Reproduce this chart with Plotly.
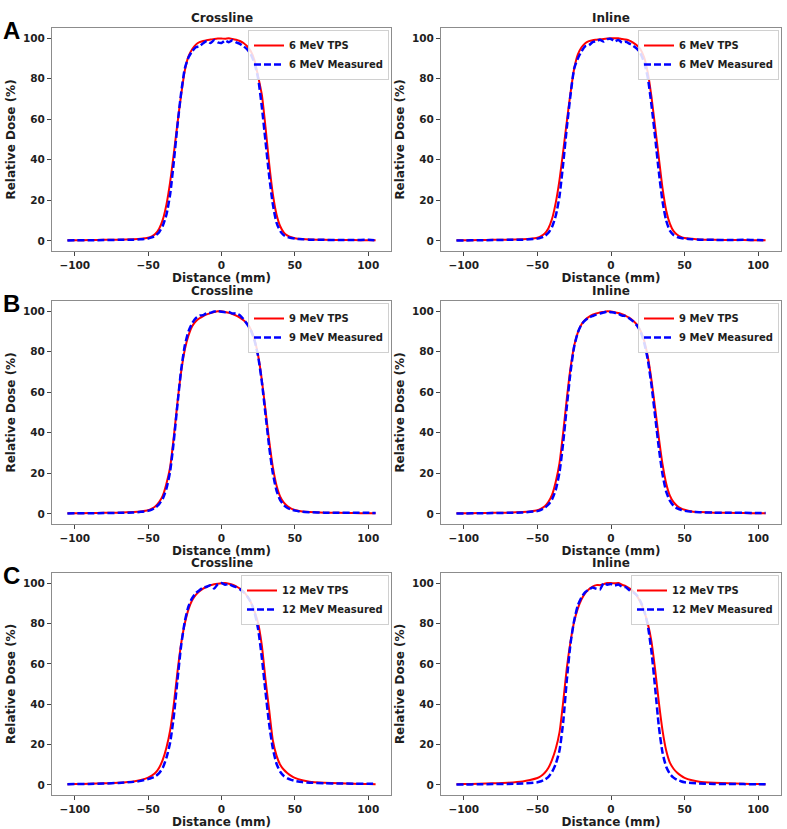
import plotly.graph_objects as go

# ---------------- data ----------------
distance_mm = [-105, -100, -90, -80, -70, -60, -55, -50,
               -47.5, -45, -42.5, -40, -37.5, -35, -32.5, -30, -27.5, -25, -22.5, -20,
               -17.5, -15, -12.5, -10, -7.5, -5, -2.5,
               0,
               2.5, 5, 7.5, 10, 12.5, 15, 17.5, 20, 22.5, 25, 27.5, 30, 32.5, 35,
               37.5, 40, 42.5, 45, 47.5,
               50, 55, 60, 70, 80, 90, 100, 105]

cross6_tps = [0.3, 0.3, 0.4, 0.5, 0.6, 0.8, 1.0, 1.5,
              2.2, 3.5, 6, 10.5, 18, 29, 43, 58, 72, 84, 91, 94.5,
              96.8, 98, 98.6, 99, 99.3, 99.6, 99.8,
              99.8,
              99.7, 99.9, 99.6, 99.2, 98.6, 97.6, 96, 93.5, 89, 81, 72, 56, 38, 23,
              13, 7.2, 4.1, 2.6, 1.8,
              1.3, 0.9, 0.7, 0.5, 0.4, 0.4, 0.3, 0.3]
cross6_meas = [0.2, 0.3, 0.3, 0.4, 0.5, 0.6, 0.8, 1.2,
               1.7, 2.6, 4.3, 7.5, 13, 23, 39, 57, 73, 85, 90.5, 93.5,
               95.5, 96, 97.5, 98.6, 97.6, 99, 97.9,
               97.6,
               98.8, 98, 98.9, 97.9, 97.2, 96, 94.5, 92, 87.5, 80, 66, 49, 32, 18,
               9, 4.8, 2.8, 1.9, 1.4,
               1.1, 0.8, 0.6, 0.5, 0.4, 0.4, 0.5, 0.3]

inline6_tps = [0.3, 0.3, 0.4, 0.5, 0.6, 0.8, 1.0, 1.5,
               2.3, 3.6, 6.2, 11, 19, 30, 44, 59, 73, 85, 92, 95.5,
               97.5, 98.5, 99, 99.2, 99.4, 99.6, 99.8,
               100,
               99.9, 100, 99.6, 99.3, 98.8, 97.8, 96.5, 94.5, 90.5, 83, 71, 56, 41, 26,
               15, 8.5, 4.8, 3, 2.0,
               1.4, 1.0, 0.7, 0.5, 0.4, 0.4, 0.3, 0.3]
inline6_meas = [0.2, 0.2, 0.3, 0.4, 0.5, 0.6, 0.8, 1.1,
                1.6, 2.4, 4, 7, 12.5, 22, 38, 56, 72, 85, 90, 93.5,
                96, 96.5, 98, 98.5, 99.2, 98.3, 99.5,
                99.6,
                98.4, 99.1, 97.8, 98.2, 97.3, 96.2, 94.8, 92.5, 88, 80.5, 67, 51, 34, 19.5,
                10, 5, 2.9, 1.9, 1.4,
                1.1, 0.8, 0.6, 0.5, 0.4, 0.5, 0.4, 0.3]

cross9_tps = [0.3, 0.3, 0.4, 0.5, 0.6, 0.9, 1.2, 1.8,
              2.6, 3.8, 5.8, 9, 15, 23, 38, 55, 70, 81, 88, 92.5,
              95, 96.5, 97.5, 98.4, 99, 99.5, 99.9,
              99.9,
              99.6, 99.2, 98.6, 97.8, 96.8, 95.5, 93.8, 91, 86, 78, 66, 51, 36, 23,
              14, 8.5, 5.5, 3.7, 2.6,
              1.9, 1.2, 0.9, 0.6, 0.5, 0.4, 0.3, 0.3]
cross9_meas = [0.2, 0.3, 0.3, 0.4, 0.5, 0.7, 1.0, 1.5,
               2.1, 3.1, 4.8, 7.5, 12.5, 21, 36, 54, 71, 83, 90, 94,
               96.5, 97.8, 98, 99, 99.2, 99.8, 100,
               99.7,
               99.5, 99.6, 98.8, 98.9, 98, 96, 93.5, 90.5, 85.5, 77.5, 65, 49, 33, 20,
               11.5, 6.8, 4.3, 2.9, 2.1,
               1.6, 1.0, 0.8, 0.6, 0.5, 0.5, 0.5, 0.4]

inline9_tps = [0.3, 0.3, 0.4, 0.5, 0.6, 0.9, 1.2, 1.8,
               2.6, 3.8, 6, 9.5, 16, 25, 40, 57, 72, 83, 89.5, 93.5,
               95.8, 97.2, 98.2, 98.8, 99.3, 99.6, 99.9,
               99.8,
               99.5, 99.1, 98.5, 97.7, 96.7, 95.3, 93.5, 90.5, 85.5, 77.5, 66, 52, 37.5, 24.5,
               15, 9, 5.8, 3.9, 2.7,
               2.0, 1.2, 0.9, 0.6, 0.5, 0.4, 0.3, 0.3]
inline9_meas = [0.2, 0.2, 0.3, 0.4, 0.5, 0.7, 1.0, 1.4,
                2.0, 3, 4.6, 7.2, 12, 20.5, 35, 53, 70, 82.5, 89.5, 93.5,
                95.5, 96.8, 97.6, 98.3, 98.8, 99.3, 99.8,
                99.5,
                99.2, 98.7, 97.8, 97.6, 96.4, 95, 93, 90, 84.5, 76, 63.5, 48, 32.5, 19.5,
                11, 6.5, 4, 2.7, 2.0,
                1.5, 1.0, 0.8, 0.6, 0.5, 0.5, 0.4, 0.4]

cross12_tps = [0.3, 0.4, 0.6, 0.8, 1.1, 1.7, 2.4, 3.6,
               4.6, 6, 8.5, 12.5, 18.5, 27, 40, 56, 70, 80, 87, 91.5,
               94.2, 96, 97.3, 98.2, 98.9, 99.4, 99.7,
               99.9,
               100, 99.7, 99.2, 98.4, 97.3, 95.8, 93.5, 90.5, 86, 80, 69, 52, 37, 22,
               14.5, 10, 7.5, 5.8, 4.5,
               3.5, 2.3, 1.6, 1.1, 0.8, 0.6, 0.4, 0.3]
cross12_meas = [0.3, 0.4, 0.5, 0.7, 1.0, 1.5, 2.0, 2.9,
                3.5, 4.3, 5.8, 8.5, 13.5, 21, 34, 52, 69, 81, 88.5, 92.5,
                95, 96.5, 97.8, 98.2, 98.9, 97.3, 99.5,
                100,
                99.2, 99.5, 98.6, 98, 97, 95.5, 93.5, 90.5, 85.5, 77, 63, 46, 30, 18,
                10.5, 6.5, 4.4, 3.2, 2.5,
                2.0, 1.4, 1.1, 0.8, 0.7, 0.6, 0.6, 0.5]

inline12_tps = [0.3, 0.4, 0.6, 0.8, 1.1, 1.7, 2.4, 3.4,
                4.4, 6, 8.5, 12.5, 18, 26, 41, 58, 71, 81, 87.5, 92,
                95, 97, 98.3, 99, 99, 99.5, 100,
                100,
                99.9, 100, 99.2, 98.5, 97.4, 96, 93.8, 90.5, 86, 80, 71, 57, 41, 27,
                17, 11, 8, 6, 4.6,
                3.5, 2.3, 1.6, 1.1, 0.8, 0.6, 0.4, 0.3]
inline12_meas = [0.2, 0.2, 0.3, 0.4, 0.5, 0.7, 0.9, 1.3,
                 1.8, 2.6, 4, 6.5, 10.5, 17, 31, 52, 70, 81.5, 89, 93,
                 95.5, 96.8, 97.8, 97.2, 96.8, 100, 99.2,
                 99.5,
                 98.8, 99.3, 98.2, 98, 96.5, 95.5, 94, 91, 86.5, 79, 66, 48, 29, 16,
                 9, 5.5, 3.6, 2.5, 1.8,
                 1.3, 0.9, 0.7, 0.5, 0.4, 0.4, 0.3, 0.3]

x_ticks = [-100, -50, 0, 50, 100]
y_ticks = [0, 20, 40, 60, 80, 100]
energies = ["6 MeV", "9 MeV", "12 MeV"]
views = ["Crossline", "Inline"]
panel_letters = ["A", "B", "C"]

series = [
    [(cross6_tps, cross6_meas), (inline6_tps, inline6_meas)],
    [(cross9_tps, cross9_meas), (inline9_tps, inline9_meas)],
    [(cross12_tps, cross12_meas), (inline12_tps, inline12_meas)],
]

# ---------------- layout ----------------
W, H = 787, 829
col_px = [(52, 391), (441, 781)]
row_px = [(28, 251), (301, 524), (573, 795)]

FONT = "DejaVu Sans"
TXT = "#1e1e1e"
fig = go.Figure()
layout = dict(
    width=W, height=H,
    margin=dict(l=0, r=0, t=0, b=0),
    paper_bgcolor="white", plot_bgcolor="white",
    font=dict(family=FONT, size=10, color=TXT, weight="bold"),
    showlegend=True,
)
annotations = []

for r in range(3):
    for c in range(2):
        k = r * 2 + c + 1
        sfx = "" if k == 1 else str(k)
        xd = [col_px[c][0] / W, col_px[c][1] / W]
        yd = [1 - row_px[r][1] / H, 1 - row_px[r][0] / H]
        legname = "legend" if k == 1 else f"legend{k}"
        tps, meas = series[r][c]
        fig.add_trace(go.Scatter(
            x=distance_mm, y=tps, mode="lines",
            name=f"{energies[r]} TPS",
            line=dict(color="#ff0000", width=2, shape="spline", smoothing=0.6),
            xaxis=f"x{sfx}", yaxis=f"y{sfx}", legend=legname))
        fig.add_trace(go.Scatter(
            x=distance_mm, y=meas, mode="lines",
            name=f"{energies[r]} Measured",
            line=dict(color="#0000ff", width=2.5, dash="7px,3px", shape="spline", smoothing=0.6),
            xaxis=f"x{sfx}", yaxis=f"y{sfx}", legend=legname))

        axcommon = dict(showline=True, mirror=True, linecolor="#8c8c8c", linewidth=1,
                        ticks="outside", ticklen=4, tickcolor="#444444",
                        showgrid=False, zeroline=False,
                        tickfont=dict(family=FONT, size=10.5, color=TXT, weight="bold"))
        layout[f"xaxis{sfx}"] = dict(
            domain=xd, range=[-115.5, 115.5], tickvals=x_ticks,
            ticktext=[("\u2212" + str(abs(v))) if v < 0 else str(v) for v in x_ticks],
            anchor=f"y{sfx}",
            title=dict(text="Distance (mm)", standoff=0,
                       font=dict(family=FONT, size=12, color=TXT, weight="bold")),
            **axcommon)
        layout[f"yaxis{sfx}"] = dict(
            domain=yd, range=[-5, 105], tickvals=y_ticks, anchor=f"x{sfx}",
            title=dict(text="Relative Dose (%)", standoff=4,
                       font=dict(family=FONT, size=12, color=TXT, weight="bold")),
            **axcommon)
        layout[legname] = dict(
            x=xd[1] - 2 / W, y=yd[1] - 2 / H, xanchor="right", yanchor="top",
            bgcolor="rgba(255,255,255,0.85)", bordercolor="#d0d0d0", borderwidth=1,
            font=dict(family=FONT, size=10, color=TXT, weight="bold"),
            tracegroupgap=0, itemwidth=30)
        annotations.append(dict(
            text=views[c], x=(xd[0] + xd[1]) / 2, y=yd[1], xref="paper", yref="paper",
            xanchor="center", yanchor="bottom", yshift=1, showarrow=False,
            font=dict(family=FONT, size=12, color=TXT, weight="bold")))
    annotations.append(dict(
        text=panel_letters[r], x=1 / W, y=1 - (row_px[r][0] + 2) / H,
        xref="paper", yref="paper", xanchor="left", yanchor="middle", showarrow=False,
        font=dict(family="Liberation Sans Narrow, Liberation Sans, Arial", size=24,
                  color="black", weight="bold")))

layout["annotations"] = annotations
fig.update_layout(**layout)
fig.write_html("out.html")
